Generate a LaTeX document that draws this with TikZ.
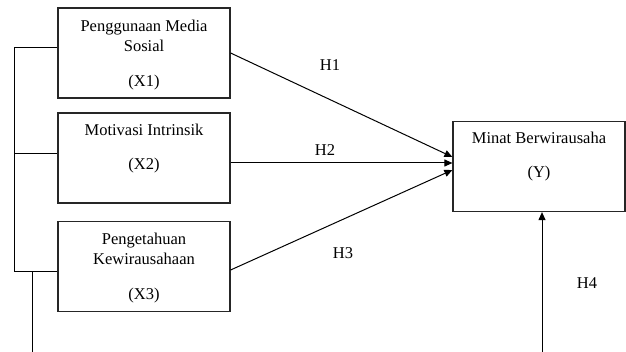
\documentclass[tikz,border=0pt]{standalone}
\usepackage{fontspec}
\setmainfont{Liberation Serif}
\usepackage{tikz}
\usetikzlibrary{arrows.meta,positioning}

\tikzset{
  varbox/.style={draw=black!85,line width=1.2pt,minimum width=172pt,minimum height=90pt,inner sep=0pt},
  vartext/.style={align=center,inner sep=0pt,font=\fontsize{16.5}{20}\selectfont},
  hyp/.style={font=\fontsize{16.5}{20}\selectfont,inner sep=0pt},
  link/.style={line width=1pt},
  hyparrow/.style={line width=1pt,-{Triangle[length=8pt,width=7pt]}}
}

\begin{document}
\begin{tikzpicture}[x=1pt,y=-1pt]
\useasboundingbox (0,0) rectangle (626,352);
% variabel bebas
\node[varbox] (x1) at (144,53) {};
\node[varbox] (x2) at (144,158) {};
\node[varbox] (x3) at (144,266.5) {};
\node[varbox] (y) at (539,166.5) {};
\node[vartext,below=12pt of x1.north] (x1t) {Penggunaan Media\\Sosial\\[15pt](X1)};
\node[vartext,below=11pt of x2.north] (x2t) {Motivasi Intrinsik\\[14pt](X2)};
\node[vartext,below=12pt of x3.north] (x3t) {Pengetahuan\\Kewirausahaan\\[15pt](X3)};
\node[vartext,below=11pt of y.north] (yt) {Minat Berwirausaha\\[14pt](Y)};
% garis kiri
\coordinate (k1) at (14,48);
\coordinate (k2) at (14,154);
\coordinate (k3) at (14,272);
\coordinate (k4) at (32,272);
\coordinate (kb) at (32,352);
\coordinate (yb) at (542,352);
\draw[link] (k1) -- (k3);
\draw[link] (k1) -- (k1 -| x1.west);
\draw[link] (k2) -- (k2 -| x2.west);
\draw[link] (k3) -- (k3 -| x3.west);
\draw[link] (k4) -- (kb);
% hipotesis
\draw[hyparrow] (x1.east |- 0,53) -- (y.west |- 0,157);
\draw[hyparrow] (x2.east |- 0,163) -- (y.west |- 0,163);
\draw[hyparrow] (x3.east |- 0,270) -- (y.west |- 0,170);
\draw[hyparrow] (yb) -- (yb |- y.south);
\node[hyp] (h1) at (330,65) {H1};
\node[hyp] (h2) at (325,150) {H2};
\node[hyp] (h3) at (343,253) {H3};
\node[hyp] (h4) at (587,283) {H4};
\end{tikzpicture}
\end{document}
